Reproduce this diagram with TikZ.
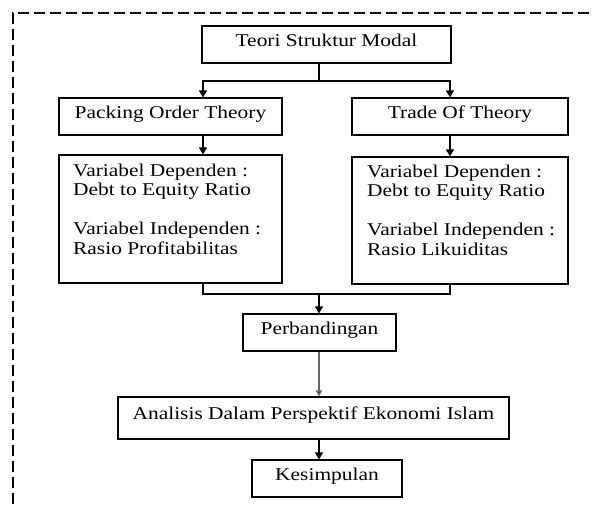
\documentclass[tikz,border=0pt]{standalone}
\usepackage{fontspec}
\setmainfont{Liberation Serif}[FakeStretch=1.19]
\usetikzlibrary{arrows.meta}
\begin{document}
\begin{tikzpicture}[x=1pt,y=-1pt,
  box/.style={draw, line width=1.1pt, inner sep=0pt, text height=12.5pt, text depth=9pt,
    font=\fontsize{18}{19.5}\selectfont},
  vbox/.style={draw, line width=1.1pt, inner sep=0pt},
  vtext/.style={inner sep=0pt, align=left, anchor=north west, font=\fontsize{18}{19.5}\selectfont},
  conn/.style={line width=1.1pt},
  arr/.style={line width=1.1pt, -{Triangle[length=7pt,width=8pt]}},
  grayarr/.style={line width=1.8pt, draw=gray!80!black, -{Triangle[length=6pt,width=6pt,fill=black]}},
  frame/.style={line width=1.2pt, dash pattern=on 11pt off 5pt}
]
\useasboundingbox (0,0) rectangle (594,504);
\draw[frame] (13,520) -- (13,13) -- (610,13);

\node[box, minimum width=249pt, minimum height=37pt] (teori) at (326.5,44.5) {Teori Struktur Modal};
\node[box, minimum width=223pt, minimum height=37pt] (packing) at (170.5,116.5) {Packing Order Theory};
\node[box, minimum width=216pt, minimum height=37pt] (trade) at (460,116.5) {Trade Of Theory};
\node[vbox, minimum width=223pt, minimum height=128pt] (varL) at (170.5,219) {};
\node[vbox, minimum width=216pt, minimum height=127pt] (varR) at (460,220.5) {};
\node[vtext] (tL) at (73,163.7) {Variabel Dependen :\\Debt to Equity Ratio\\[19.5pt]Variabel Independen :\\Rasio Profitabilitas};
\node[vtext] (tR) at (367,164.7) {Variabel Dependen :\\Debt to Equity Ratio\\[19.5pt]Variabel Independen :\\Rasio Likuiditas};
\node[box, minimum width=153pt, minimum height=37pt] (perb) at (319.5,332.5) {Perbandingan};
\node[box, minimum width=391pt, minimum height=42pt] (anal) at (313.5,418) {Analisis Dalam Perspektif Ekonomi Islam};
\node[box, minimum width=150pt, minimum height=37pt] (kes) at (327,478.5) {Kesimpulan};

\coordinate (j) at (319,81);
\coordinate (cl) at (203,0);
\coordinate (cr) at (450,0);
\coordinate (jb) at (319,294);

\draw[conn] (teori.south -| j) -- (j);
\draw[arr] (j) -| (packing.north -| cl);
\draw[arr] (j) -| (trade.north -| cr);
\draw[arr] (packing.south -| cl) -- (varL.north -| cl);
\draw[arr] (trade.south -| cr) -- (varR.north -| cr);
\draw[conn] (varL.south -| cl) |- (jb);
\draw[conn] (varR.south -| cr) |- (jb);
\draw[arr] (jb) -- (perb.north -| jb);
\draw[grayarr] (perb.south -| jb) -- (anal.north -| jb);
\draw[arr] (anal.south -| jb) -- (kes.north -| jb);
\end{tikzpicture}
\end{document}
